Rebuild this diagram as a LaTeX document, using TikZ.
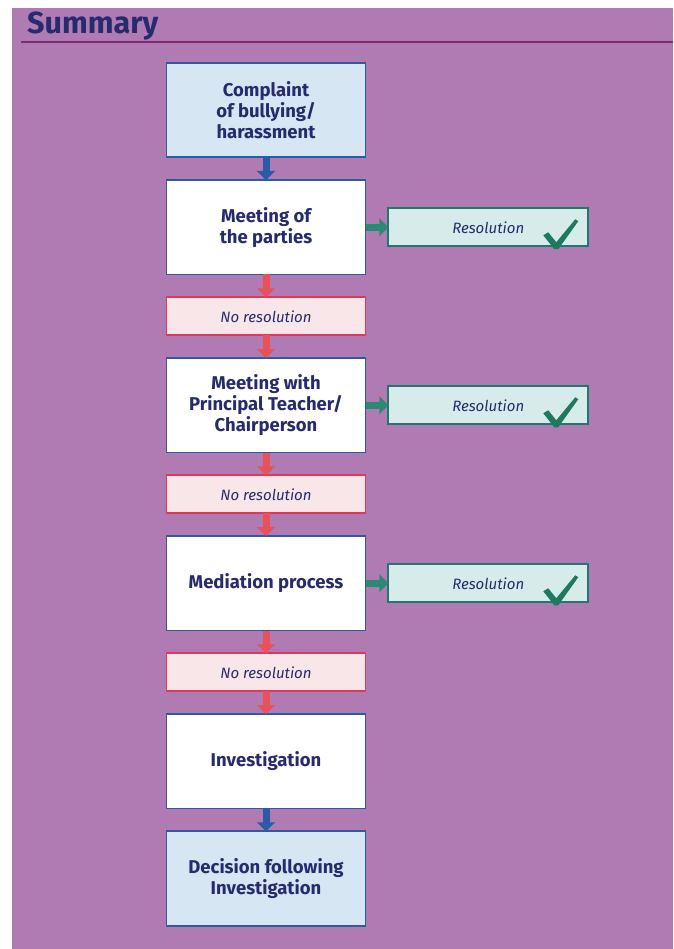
\documentclass[tikz,border=0pt]{standalone}
\usepackage{fontspec}
\setmainfont{Fira Sans}
\usetikzlibrary{positioning,arrows.meta}
\definecolor{bgpurple}{HTML}{B07BB2}
\definecolor{rulepurple}{HTML}{7E2C72}
\definecolor{navy}{HTML}{262A6E}
\definecolor{boxblue}{HTML}{2B5AA6}
\definecolor{lightblue}{HTML}{D6E6F3}
\definecolor{noresred}{HTML}{E0385C}
\definecolor{noresfill}{HTML}{F8E6E8}
\definecolor{arrred}{HTML}{E8505A}
\definecolor{resteal}{HTML}{22786C}
\definecolor{resfill}{HTML}{D7EBEB}
\definecolor{arrteal}{HTML}{2A8A72}
\definecolor{ticktgreen}{HTML}{1D7A5C}
\tikzset{checktick/.pic={
    \fill[ticktgreen] (-12,-13) -- (-7,-16) -- (1,-6) -- (20,-29) -- (23,-27) -- (3,1) -- (-1,1) -- cycle;
}}
\begin{document}
\begin{tikzpicture}[x=1pt, y=-1pt, node distance=22.75pt,
    main/.style={draw=boxblue, line width=1.7pt, fill=white, outer sep=0pt,
        minimum width=199pt, minimum height=94.5pt, align=center, text=navy,
        font=\fontsize{18.5}{21}\selectfont\bfseries},
    startbox/.style={main, fill=lightblue},
    nores/.style={draw=noresred, line width=1.7pt, fill=noresfill, outer sep=0pt,
        minimum width=199pt, minimum height=38pt, text=navy,
        font=\fontsize{15}{17}\selectfont\itshape},
    res/.style={draw=resteal, line width=1.7pt, fill=resfill, outer sep=0pt,
        minimum width=200pt, minimum height=38pt, text=navy,
        font=\fontsize{15}{17}\selectfont\itshape},
    blockarr/.style={line width=7pt, -{Triangle[width=18pt,length=9pt]}},
    bluearr/.style={blockarr, boxblue},
    redarr/.style={blockarr, arrred},
    tealarr/.style={blockarr, arrteal}]
    \useasboundingbox (0,0) rectangle (673,949);
    % background and heading
    \fill[bgpurple] (12,8) rectangle (673,949);
    \draw[rulepurple, line width=2pt] (21,42) -- (673,42);
    \node[anchor=base west, text=navy, font=\fontsize{30.5}{34}\selectfont\bfseries, inner sep=0pt] (title) at (27,34) {Summary};
    % main column
    \node[startbox] (complaint) at (266,110) {Complaint\\of bullying/\\harassment};
    \node[main] (meet1) [below=of complaint] {Meeting of\\the parties};
    \node[nores] (nores1) [below=of meet1] {No resolution};
    \node[main] (meet2) [below=of nores1] {Meeting with\\Principal Teacher/\\Chairperson};
    \node[nores] (nores2) [below=of meet2] {No resolution};
    \node[main] (mediation) [below=of nores2] {Mediation process};
    \node[nores] (nores3) [below=of mediation] {No resolution};
    \node[main] (invest) [below=of nores3] {Investigation};
    \node[startbox] (decision) [below=of invest] {Decision following\\Investigation};
    % resolutions
    \node[res] (res1) [right=of meet1] {Resolution};
    \node[res] (res2) [right=of meet2] {Resolution};
    \node[res] (res3) [right=of mediation] {Resolution};
    \path (res1.center) ++(67,21) pic {checktick};
    \path (res2.center) ++(67,21) pic {checktick};
    \path (res3.center) ++(67,21) pic {checktick};
    % arrows
    \draw[bluearr] (complaint) -- (meet1);
    \draw[redarr] (meet1) -- (nores1);
    \draw[redarr] (nores1) -- (meet2);
    \draw[redarr] (meet2) -- (nores2);
    \draw[redarr] (nores2) -- (mediation);
    \draw[redarr] (mediation) -- (nores3);
    \draw[redarr] (nores3) -- (invest);
    \draw[bluearr] (invest) -- (decision);
    \draw[tealarr] (meet1) -- (res1);
    \draw[tealarr] (meet2) -- (res2);
    \draw[tealarr] (mediation) -- (res3);
\end{tikzpicture}
\end{document}
